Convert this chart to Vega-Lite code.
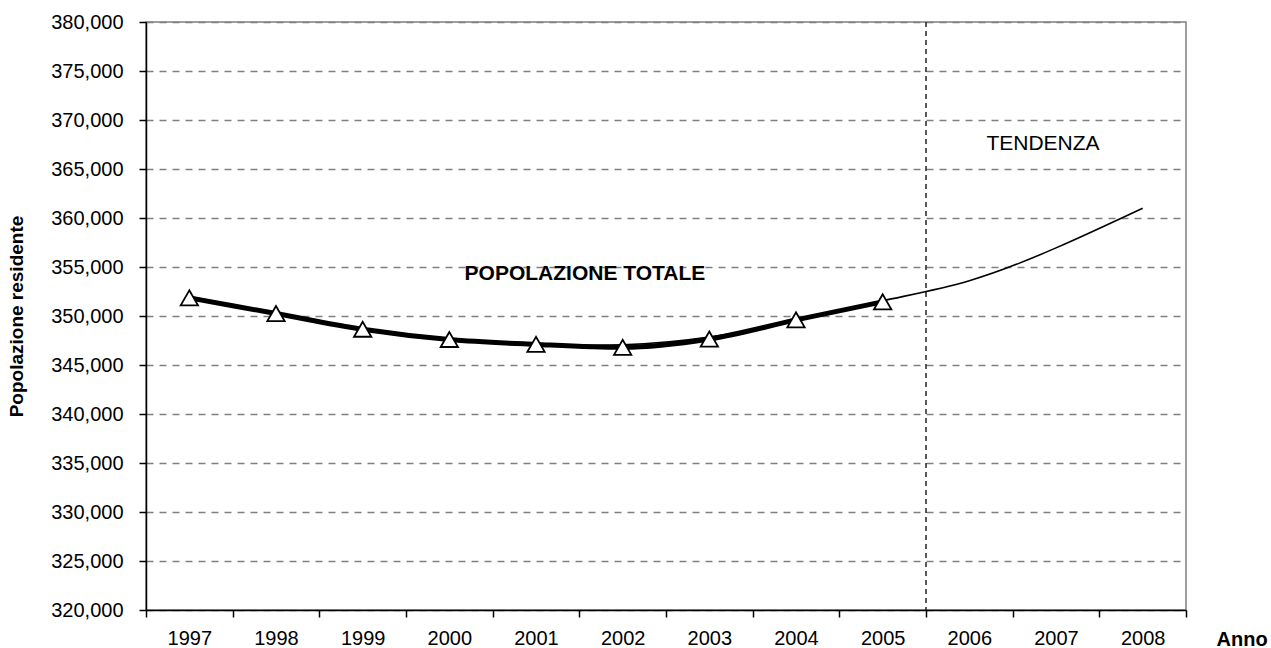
{
  "$schema": "https://vega.github.io/schema/vega-lite/v6.json",
  "width": 1040,
  "height": 588,
  "autosize": "none",
  "padding": {"left": 146, "top": 22, "right": 85, "bottom": 38},
  "background": "white",
  "config": {
    "font": "Liberation Sans",
    "view": {"stroke": "#808080", "strokeWidth": 1.5},
    "axis": {
      "labelFont": "Liberation Sans",
      "titleFont": "Liberation Sans",
      "labelColor": "black",
      "titleColor": "black",
      "domainColor": "black",
      "tickColor": "black",
      "domainWidth": 1.5,
      "tickWidth": 1.5
    }
  },
  "datasets": {
    "serie": [
      {"anno": "1997", "popolazione": 351850, "tendenza": 352000},
      {"anno": "1998", "popolazione": 350250, "tendenza": 350150},
      {"anno": "1999", "popolazione": 348650, "tendenza": 348700},
      {"anno": "2000", "popolazione": 347600, "tendenza": 347700},
      {"anno": "2001", "popolazione": 347100, "tendenza": 347150},
      {"anno": "2002", "popolazione": 346800, "tendenza": 347050},
      {"anno": "2003", "popolazione": 347650, "tendenza": 347850},
      {"anno": "2004", "popolazione": 349600, "tendenza": 349500},
      {"anno": "2005", "popolazione": 351450, "tendenza": 351550},
      {"anno": "2006", "popolazione": null, "tendenza": 353600},
      {"anno": "2007", "popolazione": null, "tendenza": 356950},
      {"anno": "2008", "popolazione": null, "tendenza": 361000}
    ]
  },
  "encoding": {
    "x": {
      "field": "anno",
      "type": "ordinal",
      "bandPosition": 0.5,
      "scale": {
        "type": "band",
        "domain": ["1997", "1998", "1999", "2000", "2001", "2002", "2003", "2004", "2005", "2006", "2007", "2008"],
        "paddingInner": 0,
        "paddingOuter": 0
      },
      "axis": {
        "title": "Anno",
        "titleFontSize": 20,
        "titleFontWeight": "bold",
        "titleAnchor": "start",
        "titleAlign": "left",
        "titleBaseline": "top",
        "titleX": 1070,
        "titleY": 19,
        "labelAngle": 0,
        "labelFontSize": 20,
        "labelPadding": 11,
        "tickBand": "extent",
        "tickSize": 7,
        "grid": false
      }
    }
  },
  "layer": [
    {
      "data": {"name": "serie"},
      "mark": {"type": "line", "color": "black", "strokeWidth": 5, "interpolate": "monotone"},
      "encoding": {
        "y": {
          "field": "popolazione",
          "type": "quantitative",
          "scale": {"domain": [320000, 380000], "nice": false, "zero": false},
          "axis": {
            "title": "Popolazione residente",
            "titleFontSize": 19,
            "titleFontWeight": "bold",
            "titleX": -120,
            "values": [320000, 325000, 330000, 335000, 340000, 345000, 350000, 355000, 360000, 365000, 370000, 375000, 380000],
            "format": ",d",
            "labelFontSize": 20,
            "labelPadding": 16,
            "tickSize": 7,
            "grid": true,
            "gridColor": "#808080",
            "gridDash": [7, 6],
            "gridWidth": 1.5
          }
        }
      }
    },
    {
      "data": {"name": "serie"},
      "mark": {"type": "line", "color": "black", "strokeWidth": 1.6, "interpolate": "natural"},
      "encoding": {
        "y": {"field": "tendenza", "type": "quantitative"}
      }
    },
    {
      "data": {"name": "serie"},
      "transform": [{"filter": "datum.popolazione != null"}],
      "mark": {"type": "point", "shape": "triangle-up", "filled": true, "fill": "white", "stroke": "black", "strokeWidth": 1.8, "size": 300, "opacity": 1},
      "encoding": {
        "y": {"field": "popolazione", "type": "quantitative"}
      }
    },
    {
      "data": {"values": [{"anno": "2006"}]},
      "mark": {"type": "rule", "color": "black", "strokeWidth": 1.3, "strokeDash": [5, 4]},
      "encoding": {
        "x": {"field": "anno", "type": "ordinal", "bandPosition": 0}
      }
    },
    {
      "data": {"values": [{"anno": "2002", "valore": 354300, "testo": "POPOLAZIONE TOTALE"}]},
      "mark": {"type": "text", "fontSize": 21, "fontWeight": "bold", "color": "black", "align": "center", "baseline": "middle"},
      "encoding": {
        "x": {"field": "anno", "type": "ordinal", "bandPosition": 0.065},
        "y": {"field": "valore", "type": "quantitative"},
        "text": {"field": "testo"}
      }
    },
    {
      "data": {"values": [{"anno": "2007", "valore": 367550, "testo": "TENDENZA"}]},
      "mark": {"type": "text", "fontSize": 21, "color": "black", "align": "center", "baseline": "middle"},
      "encoding": {
        "x": {"field": "anno", "type": "ordinal", "bandPosition": 0.35},
        "y": {"field": "valore", "type": "quantitative"},
        "text": {"field": "testo"}
      }
    }
  ]
}
